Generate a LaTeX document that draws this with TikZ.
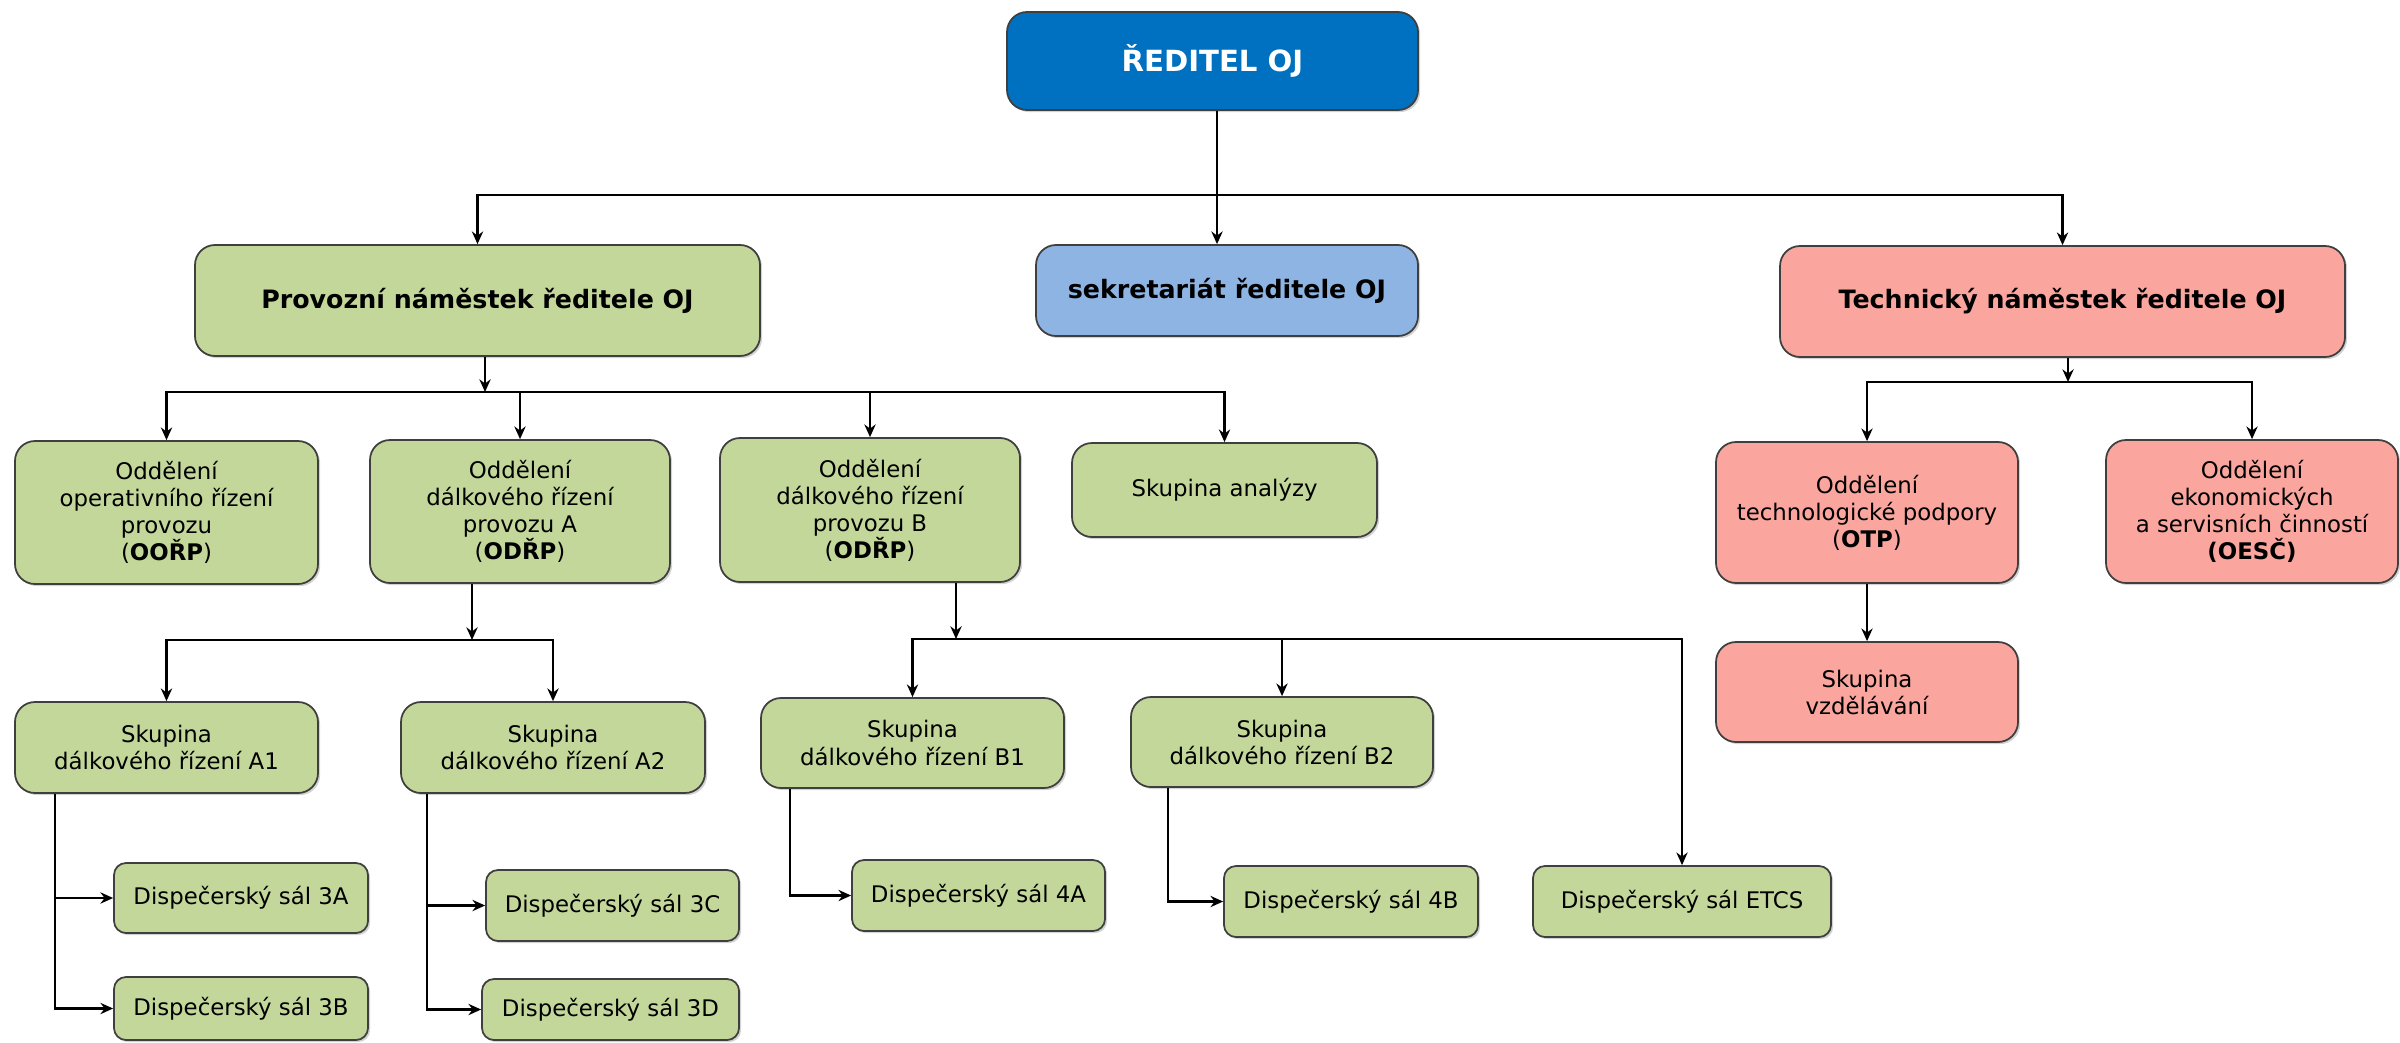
\documentclass[tikz,border=0pt]{standalone}
\usepackage{fontspec}
\setmainfont{DejaVu Sans}
\usetikzlibrary{arrows.meta,shadows}

\definecolor{zelena}{HTML}{C4D79B}
\definecolor{ruzova}{HTML}{FAA69E}
\definecolor{modra}{HTML}{8DB4E2}
\definecolor{tmavamodra}{HTML}{0070C0}
\definecolor{ramecek}{HTML}{3F3F3F}

\tikzset{
  box/.style={draw=ramecek, line width=0.5pt, rounded corners=0.2cm, align=center, inner sep=0pt,
    font={\fontsize{6.5}{7.7}\selectfont},
    drop shadow={shadow xshift=0.6pt, shadow yshift=-0.6pt, opacity=0.35}},
  zel/.style={box, fill=zelena},
  ruz/.style={box, fill=ruzova},
  hlava/.style={font={\fontsize{7.2}{8.6}\selectfont\bfseries}},
  sal/.style={zel, rounded corners=0.12cm},
  spoj/.style={line width=0.7pt, -{Stealth[length=3.6pt,width=3.2pt]}},
}

\begin{document}
\begin{tikzpicture}
	\useasboundingbox (0,0) rectangle (24,-10.42);
	% vedeni
	\node[box, fill=tmavamodra, text=white, font={\fontsize{8.3}{9.9}\selectfont\bfseries},
	  minimum width=4.11cm, minimum height=0.98cm] (R) at (12.125,-0.61) {ŘEDITEL OJ};
	\node[zel, hlava, minimum width=5.65cm, minimum height=1.11cm] (PN) at (4.775,-3.005) {Provozní náměstek ředitele OJ};
	\node[box, fill=modra, hlava, minimum width=3.82cm, minimum height=0.91cm] (SK) at (12.27,-2.905) {sekretariát ředitele OJ};
	\node[ruz, hlava, minimum width=5.65cm, minimum height=1.11cm] (TN) at (20.625,-3.015) {Technický náměstek ředitele OJ};
	% oddeleni
	\node[zel, minimum width=3.03cm, minimum height=1.43cm] (OORP) at (1.665,-5.125) {Oddělení\\operativního řízení\\provozu\\(\textbf{OOŘP})};
	\node[zel, minimum width=3.00cm, minimum height=1.43cm] (ODRPA) at (5.20,-5.115) {Oddělení\\dálkového řízení\\provozu A\\(\textbf{ODŘP})};
	\node[zel, minimum width=3.00cm, minimum height=1.44cm] (ODRPB) at (8.70,-5.10) {Oddělení\\dálkového řízení\\provozu B\\(\textbf{ODŘP})};
	\node[zel, minimum width=3.05cm, minimum height=0.94cm] (SA) at (12.245,-4.90) {Skupina analýzy};
	\node[ruz, minimum width=3.02cm, minimum height=1.41cm] (OTP) at (18.67,-5.125) {Oddělení\\technologické podpory\\(\textbf{OTP})};
	\node[ruz, minimum width=2.92cm, minimum height=1.43cm] (OESC) at (22.52,-5.115) {Oddělení\\ekonomických\\a servisních činností\\\textbf{(OESČ)}};
	\node[ruz, minimum width=3.02cm, minimum height=1.00cm] (SV) at (18.67,-6.92) {Skupina\\vzdělávání};
	% skupiny
	\node[zel, minimum width=3.03cm, minimum height=0.91cm] (A1) at (1.665,-7.475) {Skupina\\dálkového řízení A1};
	\node[zel, minimum width=3.04cm, minimum height=0.91cm] (A2) at (5.53,-7.475) {Skupina\\dálkového řízení A2};
	\node[zel, minimum width=3.03cm, minimum height=0.90cm] (B1) at (9.125,-7.43) {Skupina\\dálkového řízení B1};
	\node[zel, minimum width=3.02cm, minimum height=0.90cm] (B2) at (12.82,-7.42) {Skupina\\dálkového řízení B2};
	% dispecerske saly
	\node[sal, minimum width=2.54cm, minimum height=0.70cm] (S3A) at (2.41,-8.98) {Dispečerský sál 3A};
	\node[sal, minimum width=2.54cm, minimum height=0.63cm] (S3B) at (2.41,-10.085) {Dispečerský sál 3B};
	\node[sal, minimum width=2.53cm, minimum height=0.71cm] (S3C) at (6.125,-9.055) {Dispečerský sál 3C};
	\node[sal, minimum width=2.57cm, minimum height=0.61cm] (S3D) at (6.105,-10.095) {Dispečerský sál 3D};
	\node[sal, minimum width=2.53cm, minimum height=0.71cm] (S4A) at (9.785,-8.955) {Dispečerský sál 4A};
	\node[sal, minimum width=2.54cm, minimum height=0.71cm] (S4B) at (13.51,-9.015) {Dispečerský sál 4B};
	\node[sal, minimum width=2.98cm, minimum height=0.71cm] (SET) at (16.82,-9.015) {Dispečerský sál ETCS};
	% spoje
	\coordinate (b0) at (12.17,-1.95);
	\coordinate (b1) at (4.85,-3.92);
	\coordinate (b2) at (20.68,-3.82);
	\coordinate (b3) at (4.72,-6.40);
	\coordinate (b4) at (9.56,-6.39);
	\draw[spoj] (R.south -| b0) -- (b0 |- SK.north);
	\draw[spoj] (b0) -| (PN.north);
	\draw[spoj] (b0) -| (TN.north);
	\draw[spoj] (PN.south -| b1) -- (b1);
	\foreach \n in {OORP,ODRPA,ODRPB,SA}
	  \draw[spoj] (b1) -| (\n.north);
	\draw[spoj] (TN.south -| b2) -- (b2);
	\draw[spoj] (b2) -| (OTP.north);
	\draw[spoj] (b2) -| (OESC.north);
	\draw[spoj] (OTP) -- (SV);
	\draw[spoj] (ODRPA.south -| b3) -- (b3);
	\draw[spoj] (b3) -| (A1.north);
	\draw[spoj] (b3) -| (A2.north);
	\draw[spoj] (ODRPB.south -| b4) -- (b4);
	\foreach \n in {B1,B2,SET}
	  \draw[spoj] (b4) -| (\n.north);
	\draw[spoj] ([xshift=0.41cm]A1.south west) |- (S3A.west);
	\draw[spoj] ([xshift=0.41cm]A1.south west) |- (S3B.west);
	\draw[spoj] ([xshift=0.27cm]A2.south west) |- (S3C.west);
	\draw[spoj] ([xshift=0.27cm]A2.south west) |- (S3D.west);
	\draw[spoj] ([xshift=0.30cm]B1.south west) |- (S4A.west);
	\draw[spoj] ([xshift=0.38cm]B2.south west) |- (S4B.west);
\end{tikzpicture}
\end{document}
